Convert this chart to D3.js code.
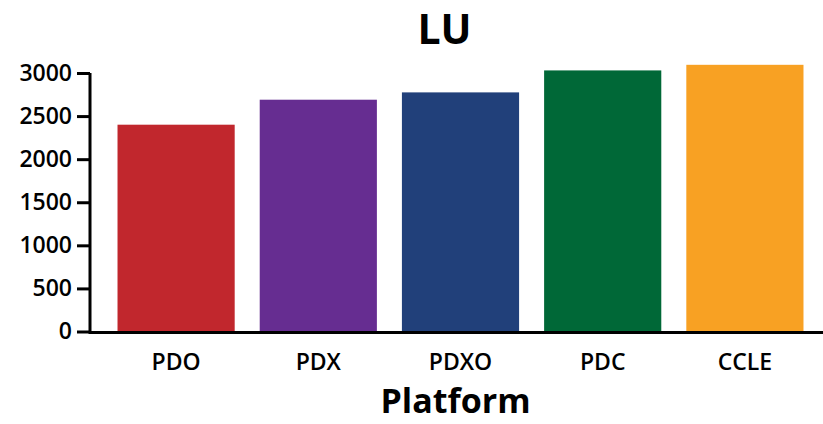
<!DOCTYPE html>
<html>
<head>
<meta charset="utf-8">
<script src="https://cdn.jsdelivr.net/npm/d3@7"></script>
<style>
  html, body { margin: 0; padding: 0; background: #fff; }
  svg { display: block; }
  svg text { font-family: "Open Sans", "Noto Sans", sans-serif; }
</style>
</head>
<body>
<svg id="chart" width="823" height="424"></svg>
<script>
// Platform counts for LU
const platforms = ["PDO", "PDX", "PDXO", "PDC", "CCLE"];
const counts = [2400, 2690, 2775, 3030, 3095];
const barColors = ["#C1272D", "#662D91", "#21407A", "#006837", "#F8A123"];
const yTicks = [0, 500, 1000, 1500, 2000, 2500, 3000];

const svg = d3.select("#chart");

const x = d3.scaleBand()
  .domain(platforms)
  .range([105, 816])
  .paddingInner(0.176)
  .paddingOuter(0.088);

const y = d3.scaleLinear()
  .domain([0, 3000])
  .range([331.5, 73]);

// bars
svg.append("g")
  .selectAll("rect")
  .data(platforms)
  .join("rect")
  .attr("x", d => x(d))
  .attr("width", x.bandwidth())
  .attr("y", (d, i) => y(counts[i]))
  .attr("height", (d, i) => y(0) - y(counts[i]))
  .attr("fill", (d, i) => barColors[i]);

// y axis
const yAxis = svg.append("g")
  .attr("transform", "translate(90,0)")
  .call(d3.axisLeft(y).tickValues(yTicks).tickFormat(d3.format("d")).tickSize(13).tickPadding(5))
  .attr("font-family", null)
  .attr("font-size", null);
yAxis.select(".domain").attr("d", `M0,${y(3000)}V${y(0)}`);
yAxis.selectAll(".domain, .tick line").attr("stroke", "#000").attr("stroke-width", 3);
yAxis.selectAll(".tick text")
  .attr("fill", "#000")
  .style("font-size", "23px")
  .style("font-weight", 600);

// x axis baseline across the full width
svg.append("line")
  .attr("x1", 88.5).attr("x2", 823)
  .attr("y1", y(0) + 1).attr("y2", y(0) + 1)
  .attr("stroke", "#000").attr("stroke-width", 3);

// category labels
svg.append("g")
  .selectAll("text")
  .data(platforms)
  .join("text")
  .attr("x", d => x(d) + x.bandwidth() / 2)
  .attr("y", 370)
  .attr("text-anchor", "middle")
  .style("font-size", "23px")
  .style("font-weight", 600)
  .text(d => d);

// axis title
svg.append("text")
  .attr("x", 455.5)
  .attr("y", 413)
  .attr("text-anchor", "middle")
  .style("font-size", "34px")
  .style("font-weight", 700)
  .text("Platform");

// chart title
svg.append("text")
  .attr("x", 444.5)
  .attr("y", 43.5)
  .attr("text-anchor", "middle")
  .style("font-size", "41px")
  .style("font-weight", 700)
  .text("LU");
</script>
</body>
</html>
